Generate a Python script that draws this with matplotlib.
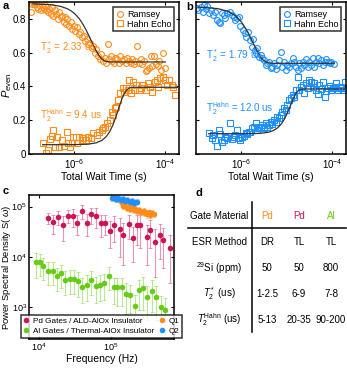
import matplotlib
matplotlib.use('Agg')
import matplotlib.pyplot as plt
from matplotlib.lines import Line2D
from matplotlib.colors import to_rgba

plt.rcParams['font.family'] = ['Liberation Sans', 'DejaVu Sans']
plt.rcParams['mathtext.fontset'] = 'custom'
plt.rcParams['mathtext.rm'] = 'Liberation Sans'
plt.rcParams['mathtext.it'] = 'Liberation Sans:italic'
plt.rcParams['mathtext.bf'] = 'Liberation Sans:bold'
plt.rcParams['font.size'] = 7

orange = '#ff8c1a'
blue = '#1f8fff'
crimson = '#cc1456'
green = '#66cc14'

# ---- panel a (Pd, double resonance) ----
a_ram_t = [1.1e-7, 1.15e-7, 1.2e-7, 1.3e-7, 1.4e-7, 1.5e-7, 1.6e-7, 1.7e-7, 1.8e-7, 2.0e-7,
           2.1e-7, 2.2e-7, 2.4e-7, 2.6e-7, 2.8e-7, 3.0e-7, 3.2e-7, 3.4e-7, 3.7e-7, 4.0e-7,
           4.3e-7, 4.6e-7, 5.0e-7, 5.4e-7, 5.8e-7, 6.2e-7, 6.6e-7, 7.0e-7, 7.6e-7, 8.2e-7,
           9.0e-7, 9.8e-7, 1.05e-6, 1.15e-6, 1.25e-6, 1.35e-6, 1.45e-6, 1.6e-6, 1.75e-6, 1.9e-6,
           2.0e-6, 2.2e-6, 2.4e-6, 2.6e-6, 2.8e-6, 3.0e-6, 3.3e-6, 3.6e-6, 3.9e-6, 4.2e-6,
           4.6e-6, 5.0e-6, 5.4e-6, 5.8e-6, 6.3e-6, 6.8e-6, 7.4e-6, 8.0e-6, 8.7e-6, 9.5e-6,
           1.03e-5, 1.12e-5, 1.22e-5, 1.33e-5, 1.45e-5, 1.58e-5, 1.72e-5, 1.87e-5, 2.04e-5, 2.2e-5,
           2.4e-5, 2.6e-5, 2.85e-5, 3.1e-5, 3.4e-5, 3.7e-5, 4.0e-5, 4.4e-5, 4.8e-5, 5.2e-5,
           5.7e-5, 6.2e-5, 6.8e-5, 7.4e-5, 8.1e-5, 8.8e-5, 9.6e-5]
a_ram_p = [0.84, 0.89, 0.90, 0.89, 0.90, 0.87, 0.86, 0.88, 0.85, 0.87,
           0.86, 0.88, 0.85, 0.84, 0.86, 0.83, 0.87, 0.82, 0.85, 0.83,
           0.80, 0.84, 0.81, 0.82, 0.78, 0.81, 0.77, 0.80, 0.76, 0.78,
           0.74, 0.76, 0.73, 0.75, 0.71, 0.72, 0.69, 0.70, 0.67, 0.68,
           0.65, 0.66, 0.63, 0.64, 0.60, 0.62, 0.58, 0.56, 0.59, 0.55,
           0.57, 0.54, 0.65, 0.56, 0.58, 0.55, 0.54, 0.57, 0.56, 0.54,
           0.58, 0.55, 0.56, 0.54, 0.57, 0.55, 0.54, 0.56, 0.53, 0.55,
           0.64, 0.54, 0.56, 0.53, 0.55, 0.49, 0.50, 0.51, 0.58, 0.52,
           0.58, 0.53, 0.52, 0.55, 0.50, 0.60, 0.51]
a_hahn_t = [2.07e-7, 2.36e-7, 2.66e-7, 2.9e-7, 3.15e-7, 3.3e-7, 3.73e-7, 4.05e-7, 4.64e-7, 5.2e-7,
            5.9e-7, 6.7e-7, 7.3e-7, 7.96e-7, 8.7e-7, 9.4e-7, 1.08e-6, 1.15e-6, 1.28e-6, 1.44e-6,
            1.56e-6, 1.79e-6, 2.01e-6, 2.26e-6, 2.59e-6, 3.07e-6, 3.5e-6, 3.95e-6, 4.3e-6, 4.68e-6,
            5.1e-6, 6.0e-6, 6.6e-6, 7.1e-6, 7.8e-6, 8.4e-6, 9.2e-6, 1.03e-5, 1.15e-5, 1.22e-5,
            1.36e-5, 1.52e-5, 1.6e-5, 1.8e-5, 1.96e-5, 2.14e-5, 2.32e-5, 2.66e-5, 2.99e-5, 3.26e-5,
            3.73e-5, 4.2e-5, 4.56e-5, 5.2e-5, 5.9e-5, 6.4e-5, 6.95e-5, 7.6e-5, 8.7e-5, 9.7e-5,
            1.1e-4, 1.21e-4, 1.37e-4, 1.49e-4, 1.62e-4]
a_hahn_p = [0.067, 0.004, 0.024, 0.087, 0.107, 0.142, 0.043, 0.103, 0.043, 0.083,
            0.047, 0.132, 0.063, 0.043, 0.063, 0.103, 0.103, 0.063, 0.103, 0.083,
            0.093, 0.083, 0.103, 0.093, 0.122, 0.112, 0.132, 0.142, 0.152, 0.162,
            0.182, 0.201, 0.251, 0.231, 0.270, 0.280, 0.320, 0.359, 0.389, 0.369,
            0.389, 0.379, 0.438, 0.359, 0.428, 0.379, 0.409, 0.379, 0.389, 0.409,
            0.379, 0.418, 0.399, 0.369, 0.428, 0.438, 0.399, 0.448, 0.458, 0.438,
            0.409, 0.438, 0.409, 0.399, 0.349]
a_fit_ram_t = [1.2e-7, 3e-7, 5e-7, 7e-7, 8.5e-7, 1e-6, 1.15e-6, 1.3e-6, 1.45e-6, 1.6e-6, 1.8e-6,
               2e-6, 2.25e-6, 2.5e-6, 2.75e-6, 3e-6, 3.5e-6, 4e-6, 4.5e-6, 5e-6, 6e-6, 1e-4]
a_fit_ram_p = [0.889, 0.884, 0.874, 0.860, 0.847, 0.832, 0.815, 0.798, 0.779, 0.760, 0.735,
               0.710, 0.681, 0.654, 0.631, 0.611, 0.581, 0.563, 0.553, 0.548, 0.545, 0.545]
a_fit_hahn_t = [2e-7, 1e-6, 2e-6, 3e-6, 4e-6, 5e-6, 6e-6, 7e-6, 8e-6, 9e-6, 1e-5, 1.1e-5,
                1.2e-5, 1.3e-5, 1.4e-5, 1.6e-5, 1.8e-5, 2e-5, 1.9e-4]
a_fit_hahn_p = [0.055, 0.0554, 0.058, 0.066, 0.080, 0.1025, 0.133, 0.171, 0.213, 0.254, 0.291,
                0.324, 0.348, 0.365, 0.378, 0.390, 0.395, 0.395, 0.395]

# ---- panel b (Pd, transport) ----
b_ram_t = [1.05e-7, 1.13e-7, 1.27e-7, 1.41e-7, 1.53e-7, 1.67e-7, 1.79e-7, 1.98e-7, 2.12e-7, 2.35e-7,
           2.64e-7, 2.88e-7, 3.14e-7, 3.41e-7, 3.72e-7, 4.05e-7, 4.41e-7, 4.8e-7, 5.5e-7, 6.2e-7,
           6.8e-7, 7.4e-7, 8.0e-7, 8.7e-7, 9.5e-7, 1.09e-6, 1.17e-6, 1.29e-6, 1.38e-6, 1.53e-6,
           1.73e-6, 1.82e-6, 1.95e-6, 2.05e-6, 2.23e-6, 2.43e-6, 2.64e-6, 2.88e-6, 3.13e-6, 3.41e-6,
           3.72e-6, 4.05e-6, 4.41e-6, 4.8e-6, 5.2e-6, 5.7e-6, 6.2e-6, 6.8e-6, 7.4e-6, 8.0e-6,
           8.7e-6, 9.5e-6, 1.03e-5, 1.13e-5, 1.23e-5, 1.34e-5, 1.46e-5, 1.58e-5, 1.73e-5, 1.88e-5,
           2.05e-5, 2.23e-5, 2.43e-5, 2.64e-5, 2.88e-5, 3.13e-5, 3.41e-5, 3.72e-5, 4.05e-5, 4.41e-5,
           4.8e-5, 5.2e-5, 5.7e-5, 6.2e-5, 6.8e-5, 7.4e-5, 8.0e-5, 8.7e-5, 9.5e-5, 1.07e-4]
b_ram_p = [0.862, 0.853, 0.872, 0.843, 0.882, 0.857, 0.876, 0.833, 0.853, 0.823,
           0.843, 0.793, 0.783, 0.778, 0.833, 0.823, 0.803, 0.837, 0.843, 0.823,
           0.813, 0.793, 0.803, 0.809, 0.758, 0.734, 0.714, 0.695, 0.722, 0.675,
           0.635, 0.679, 0.616, 0.596, 0.626, 0.576, 0.586, 0.566, 0.557, 0.527,
           0.537, 0.547, 0.507, 0.517, 0.537, 0.501, 0.527, 0.557, 0.606, 0.517,
           0.547, 0.497, 0.527, 0.517, 0.537, 0.566, 0.547, 0.517, 0.497, 0.537,
           0.507, 0.547, 0.527, 0.560, 0.517, 0.547, 0.527, 0.566, 0.517, 0.547,
           0.566, 0.537, 0.557, 0.527, 0.547, 0.560, 0.547, 0.537, 0.547, 0.531]
b_hahn_t = [1.98e-7, 2.2e-7, 2.4e-7, 2.64e-7, 2.88e-7, 3.14e-7, 3.41e-7, 3.72e-7, 4.05e-7, 4.41e-7,
            4.8e-7, 5.5e-7, 6.2e-7, 6.8e-7, 7.4e-7, 8.0e-7, 8.7e-7, 9.5e-7, 1.03e-6, 1.12e-6,
            1.23e-6, 1.34e-6, 1.46e-6, 1.58e-6, 1.73e-6, 1.88e-6, 2.05e-6, 2.23e-6, 2.43e-6, 2.64e-6,
            2.88e-6, 3.13e-6, 3.41e-6, 3.72e-6, 4.05e-6, 4.41e-6, 4.8e-6, 5.2e-6, 5.7e-6, 6.2e-6,
            6.8e-6, 7.4e-6, 8.0e-6, 8.7e-6, 9.5e-6, 1.03e-5, 1.13e-5, 1.23e-5, 1.34e-5, 1.46e-5,
            1.58e-5, 1.73e-5, 1.88e-5, 2.05e-5, 2.23e-5, 2.43e-5, 2.64e-5, 2.88e-5, 3.13e-5, 3.41e-5,
            3.72e-5, 4.05e-5, 4.41e-5, 4.8e-5, 5.2e-5, 5.7e-5, 6.2e-5, 6.8e-5, 7.4e-5, 8.0e-5,
            8.7e-5, 9.5e-5, 1.03e-4, 1.13e-4, 1.23e-4, 1.34e-4, 1.46e-4, 1.58e-4, 1.73e-4, 1.88e-4,
            2.05e-4]
b_hahn_p = [0.122, 0.093, 0.112, 0.083, 0.047, 0.142, 0.118, 0.073, 0.083, 0.103,
            0.093, 0.186, 0.087, 0.103, 0.112, 0.142, 0.093, 0.083, 0.100, 0.107,
            0.122, 0.118, 0.132, 0.132, 0.152, 0.162, 0.182, 0.142, 0.152, 0.162,
            0.172, 0.152, 0.182, 0.162, 0.172, 0.191, 0.178, 0.201, 0.191, 0.221,
            0.211, 0.231, 0.251, 0.270, 0.261, 0.290, 0.320, 0.330, 0.349, 0.339,
            0.379, 0.454, 0.379, 0.395, 0.409, 0.359, 0.418, 0.389, 0.438, 0.428,
            0.395, 0.418, 0.379, 0.355, 0.409, 0.383, 0.428, 0.339, 0.375, 0.389,
            0.403, 0.379, 0.389, 0.395, 0.418, 0.379, 0.389, 0.399, 0.379, 0.428,
            0.389]
b_fit_ram_t = [1.1e-7, 3e-7, 5e-7, 7e-7, 8.5e-7, 1e-6, 1.15e-6, 1.3e-6, 1.45e-6, 1.6e-6, 1.8e-6,
               2e-6, 2.25e-6, 2.5e-6, 2.75e-6, 3e-6, 3.5e-6, 4e-6, 5e-6, 1.1e-4]
b_fit_ram_p = [0.870, 0.861, 0.845, 0.823, 0.803, 0.781, 0.757, 0.733, 0.710, 0.687, 0.658,
               0.633, 0.606, 0.584, 0.568, 0.557, 0.544, 0.539, 0.537, 0.537]
b_fit_hahn_t = [1.9e-7, 1e-6, 2e-6, 3e-6, 4e-6, 5e-6, 6e-6, 7e-6, 8e-6, 9e-6, 1e-5, 1.1e-5,
                1.2e-5, 1.3e-5, 1.4e-5, 1.6e-5, 1.8e-5, 2e-5, 2.5e-5, 2.2e-4]
b_fit_hahn_p = [0.120, 0.1202, 0.1212, 0.124, 0.1296, 0.1385, 0.151, 0.1677, 0.188, 0.2107,
                0.2367, 0.2632, 0.2875, 0.3095, 0.331, 0.360, 0.376, 0.3824, 0.385, 0.385]

# ---- panel c (noise spectra) ----
pd_f = [1.32e4, 1.55e4, 1.82e4, 2.13e4, 2.50e4, 2.94e4, 3.4e4, 3.9e4, 4.6e4, 5.3e4,
        6.2e4, 7.3e4, 8.3e4, 9.7e4, 1.10e5, 1.31e5, 1.48e5, 1.74e5, 2.0e5, 2.27e5,
        2.48e5, 3.13e5, 3.48e5, 4.0e5, 4.7e5, 5.2e5, 6.5e5]
pd_s = [5.9e4, 4.9e4, 6.3e4, 4.3e4, 6.6e4, 6.5e4, 4.7e4, 8.2e4, 4.8e4, 7.0e4,
        6.6e4, 4.7e4, 4.7e4, 3.3e4, 4.2e4, 3.5e4, 2.7e4, 4.5e4, 2.4e4, 4.2e4,
        4.3e4, 2.5e4, 3.4e4, 2.0e4, 2.7e4, 2.2e4, 1.5e4]
pd_err = [1.5e4, 2.0e4, 2.0e4, 2.2e4, 1.8e4, 2.5e4, 2.0e4, 2.5e4, 2.2e4, 2.5e4,
          2.8e4, 2.2e4, 2.0e4, 1.8e4, 2.2e4, 2.5e4, 2.0e4, 2.2e4, 1.6e4, 2.5e4,
          2.8e4, 1.8e4, 1.9e4, 1.6e4, 1.8e4, 1.6e4, 1.2e4]
al_f = [9.1e3, 1.03e4, 1.15e4, 1.32e4, 1.55e4, 1.76e4, 2.02e4, 2.30e4, 2.70e4, 3.06e4,
        3.52e4, 4.0e4, 4.6e4, 5.3e4, 6.2e4, 7.0e4, 8.0e4, 9.2e4, 1.08e5, 1.22e5,
        1.42e5, 1.62e5, 1.84e5, 2.11e5, 2.40e5, 2.75e5, 3.16e5, 3.67e5, 4.17e5, 4.94e5,
        5.6e5]
al_s = [7.7e3, 7.7e3, 6.4e3, 5.3e3, 5.3e3, 4.1e3, 4.7e3, 3.5e3, 3.65e3, 3.65e3,
        3.3e3, 2.5e3, 2.8e3, 3.5e3, 2.6e3, 2.8e3, 3.0e3, 4.2e3, 2.46e3, 2.46e3,
        2.46e3, 1.84e3, 1.76e3, 1.03e3, 2.18e3, 2.38e3, 1.56e3, 2.1e3, 1.56e3, 9.8e2,
        8.9e2]
al_err = [4.0e3, 3.5e3, 3.0e3, 2.5e3, 2.5e3, 2.0e3, 2.3e3, 1.8e3, 1.8e3, 1.8e3,
          1.7e3, 1.3e3, 1.5e3, 1.8e3, 1.4e3, 1.5e3, 1.6e3, 2.0e3, 1.3e3, 1.4e3,
          1.4e3, 1.1e3, 1.0e3, 7e2, 1.3e3, 1.5e3, 1.0e3, 1.3e3, 1.0e3, 7e2,
          6e2]
q1_f = [1.22e5, 1.33e5, 1.41e5, 1.48e5, 1.56e5, 1.65e5, 1.74e5, 1.84e5, 1.94e5, 2.04e5, 2.15e5,
        2.27e5, 2.40e5, 2.53e5, 2.67e5, 2.81e5, 2.97e5, 3.13e5, 3.30e5, 3.48e5, 3.67e5, 3.87e5]
q1_s = [1.42e5, 1.36e5, 1.16e5, 1.05e5, 1.16e5, 9.3e4, 1.0e5, 9.0e4, 9.6e4, 8.6e4, 9.0e4,
        8.2e4, 8.6e4, 8.0e4, 7.7e4, 8.2e4, 7.4e4, 7.0e4, 7.7e4, 6.8e4, 7.4e4, 7.0e4]
q1_err = [1.8e4, 1.8e4, 1.6e4, 1.5e4, 1.6e4, 1.3e4, 1.4e4, 1.3e4, 1.3e4, 1.2e4, 1.2e4,
          1.1e4, 1.2e4, 1.1e4, 1.0e4, 1.1e4, 1.0e4, 1.0e4, 1.0e4, 9e3, 1.0e4, 9e3]
q2_f = [1.02e5, 1.10e5, 1.17e5, 1.26e5, 1.36e5, 1.45e5, 1.56e5, 1.65e5, 1.80e5, 1.94e5,
        2.04e5, 2.15e5, 2.27e5]
q2_s = [1.47e5, 1.51e5, 1.42e5, 1.47e5, 1.36e5, 1.42e5, 1.30e5, 1.36e5, 1.26e5, 1.30e5,
        1.16e5, 1.22e5, 1.26e5]
q2_err = [1.8e4, 1.8e4, 1.7e4, 1.8e4, 1.6e4, 1.7e4, 1.6e4, 1.6e4, 1.5e4, 1.6e4,
          1.4e4, 1.5e4, 1.5e4]

# ---- panel d (table) ----
d_rows = ['Gate Material', 'ESR Method', '$^{29}$Si (ppm)', '$T_2^*$ (us)',
          '$T_2^{\\mathrm{Hahn}}$ (us)']
d_heads = ['Pd', 'Pd', 'Al']
d_head_colors = [orange, crimson, green]
d_cells = [['DR', 'TL', 'TL'],
           ['50', '50', '800'],
           ['1-2.5', '6-9', '7-8'],
           ['5-13', '20-35', '90-200']]

W, H = 347, 370
fig = plt.figure(figsize=(W / 100, H / 100), dpi=100)


def style(ax, size=7, pad=2):
    for s in ax.spines.values():
        s.set_linewidth(1.1)
    ax.tick_params(direction='in', top=True, right=True, length=2.5, width=0.8,
                   labelsize=size, pad=pad)
    ax.tick_params(which='minor', top=False, bottom=False, left=False, right=False)


def time_panel(rect, col, rt, rp, ht, hp, frt, frp, fht, fhp, txt1, y1, txt2, y2, ylab):
    ax = fig.add_axes(rect)
    r, = ax.plot(rt, rp, 'o', mfc='none', mec=col, ms=4.2, mew=0.8)
    h, = ax.plot(ht, hp, 's', mfc='none', mec=col, ms=4.2, mew=0.8)
    ax.plot(frt, frp, color='#333333', lw=0.9, zorder=3)
    ax.plot(fht, fhp, color='#333333', lw=0.9, zorder=3)
    ax.set_xscale('log')
    ax.set_xlim(1e-7, 2e-4)
    ax.set_ylim(0, 0.9)
    ax.set_xticks([1e-6, 1e-4])
    ax.set_yticks([0, 0.2, 0.4, 0.6, 0.8])
    style(ax)
    if ylab:
        ax.set_yticklabels(['0', '0.2', '0.4', '0.6', '0.8'])
        ax.set_ylabel('$P_{\\mathrm{even}}$', fontsize=8)
        ax.yaxis.set_label_coords(-0.10, 0.45)
    else:
        ax.set_yticklabels([])
    ax.set_xlabel('Total Wait Time (s)', fontsize=7.5, labelpad=1)
    leg = ax.legend([r, h], ['Ramsey', 'Hahn Echo'], loc='upper right', fontsize=6.5,
                    frameon=True, fancybox=False, edgecolor='black', borderpad=0.3,
                    handlelength=0.9, handletextpad=0.3, labelspacing=0.1,
                    borderaxespad=0.55)
    leg.get_frame().set_linewidth(1.1)
    ax.text(0.07, y1, txt1, color=col, transform=ax.transAxes, fontsize=7, va='center')
    ax.text(0.07, y2, txt2, color=col, transform=ax.transAxes, fontsize=7, va='center')
    return ax


axa = time_panel([29 / W, 1 - 154 / H, 150 / W, 152 / H], orange,
                 a_ram_t, a_ram_p, a_hahn_t, a_hahn_p,
                 a_fit_ram_t, a_fit_ram_p, a_fit_hahn_t, a_fit_hahn_p,
                 'T$_2^*$ = 2.33 us', 0.70, 'T$_2^{\\mathrm{Hahn}}$ = 9.4 us', 0.25, True)
axb = time_panel([196 / W, 1 - 154 / H, 150 / W, 152 / H], blue,
                 b_ram_t, b_ram_p, b_hahn_t, b_hahn_p,
                 b_fit_ram_t, b_fit_ram_p, b_fit_hahn_t, b_fit_hahn_p,
                 'T$_2^*$ = 1.79 us', 0.645, 'T$_2^{\\mathrm{Hahn}}$ = 12.0 us', 0.30, False)

# panel c
axc = fig.add_axes([29 / W, 1 - 339 / H, 145 / W, 144 / H])
for f, s, e, c in [(pd_f, pd_s, pd_err, crimson), (al_f, al_s, al_err, green),
                   (q1_f, q1_s, q1_err, orange), (q2_f, q2_s, q2_err, blue)]:
    axc.errorbar(f, s, yerr=e, fmt='o', ms=4, color=c, mec='none',
                 ecolor=to_rgba(c, 0.45), elinewidth=0.8, capsize=1.2, capthick=0.6)
axc.set_xscale('log')
axc.set_yscale('log')
axc.set_xlim(7.3e3, 7.4e5)
axc.set_ylim(2.3e2, 1.7e5)
axc.set_xticks([1e4, 1e5])
axc.set_yticks([1e3, 1e4, 1e5])
style(axc, 6.5, 1.5)
axc.set_xlabel('Frequency (Hz)', fontsize=7.5, labelpad=1)
axc.set_ylabel('Power Spectral Density S( $\\omega$)', fontsize=6.8)
axc.yaxis.set_label_coords(-0.112, 0.5)
hd = [Line2D([], [], marker='o', ls='none', color=c, mec='none', ms=4)
      for c in [crimson, green, orange, blue]]
legc = axc.legend(hd, ['Pd Gates / ALD-AlOx Insulator', 'Al Gates / Thermal-AlOx Insulator',
                       'Q1', 'Q2'],
                  ncol=2, loc='lower center', fontsize=5.9, frameon=True, fancybox=False,
                  edgecolor='black', borderpad=0.3, handlelength=0.8, handletextpad=0.4,
                  labelspacing=0.3, columnspacing=0.6, borderaxespad=0.15)
legc.get_frame().set_linewidth(1.1)

# panel d
axd = fig.add_axes([180 / W, 0, 167 / W, 185 / H])
axd.set_xlim(180, 347)
axd.set_ylim(370, 185)
axd.axis('off')
row_y = [216, 242, 268, 294, 320]
col_x = [267, 299, 331]
for lab, y in zip(d_rows, row_y):
    axd.text(219, y, lab, ha='center', va='center', fontsize=7)
for hdr, c, x in zip(d_heads, d_head_colors, col_x):
    axd.text(x, row_y[0], hdr, ha='center', va='center', fontsize=7, color=c)
for row, y in zip(d_cells, row_y[1:]):
    for val, x in zip(row, col_x):
        axd.text(x, y, val, ha='center', va='center', fontsize=7)
axd.plot([252, 252], [202, 332], color='black', lw=1.1)
axd.plot([188, 346], [228, 228], color='black', lw=1.1)

for lab, x, y in [('a', 3, 6), ('b', 186, 7), ('c', 3, 191), ('d', 195, 193)]:
    fig.text(x / W, 1 - y / H, lab, fontsize=8, fontweight='bold', va='center')

fig.savefig('out.png', dpi=100)
